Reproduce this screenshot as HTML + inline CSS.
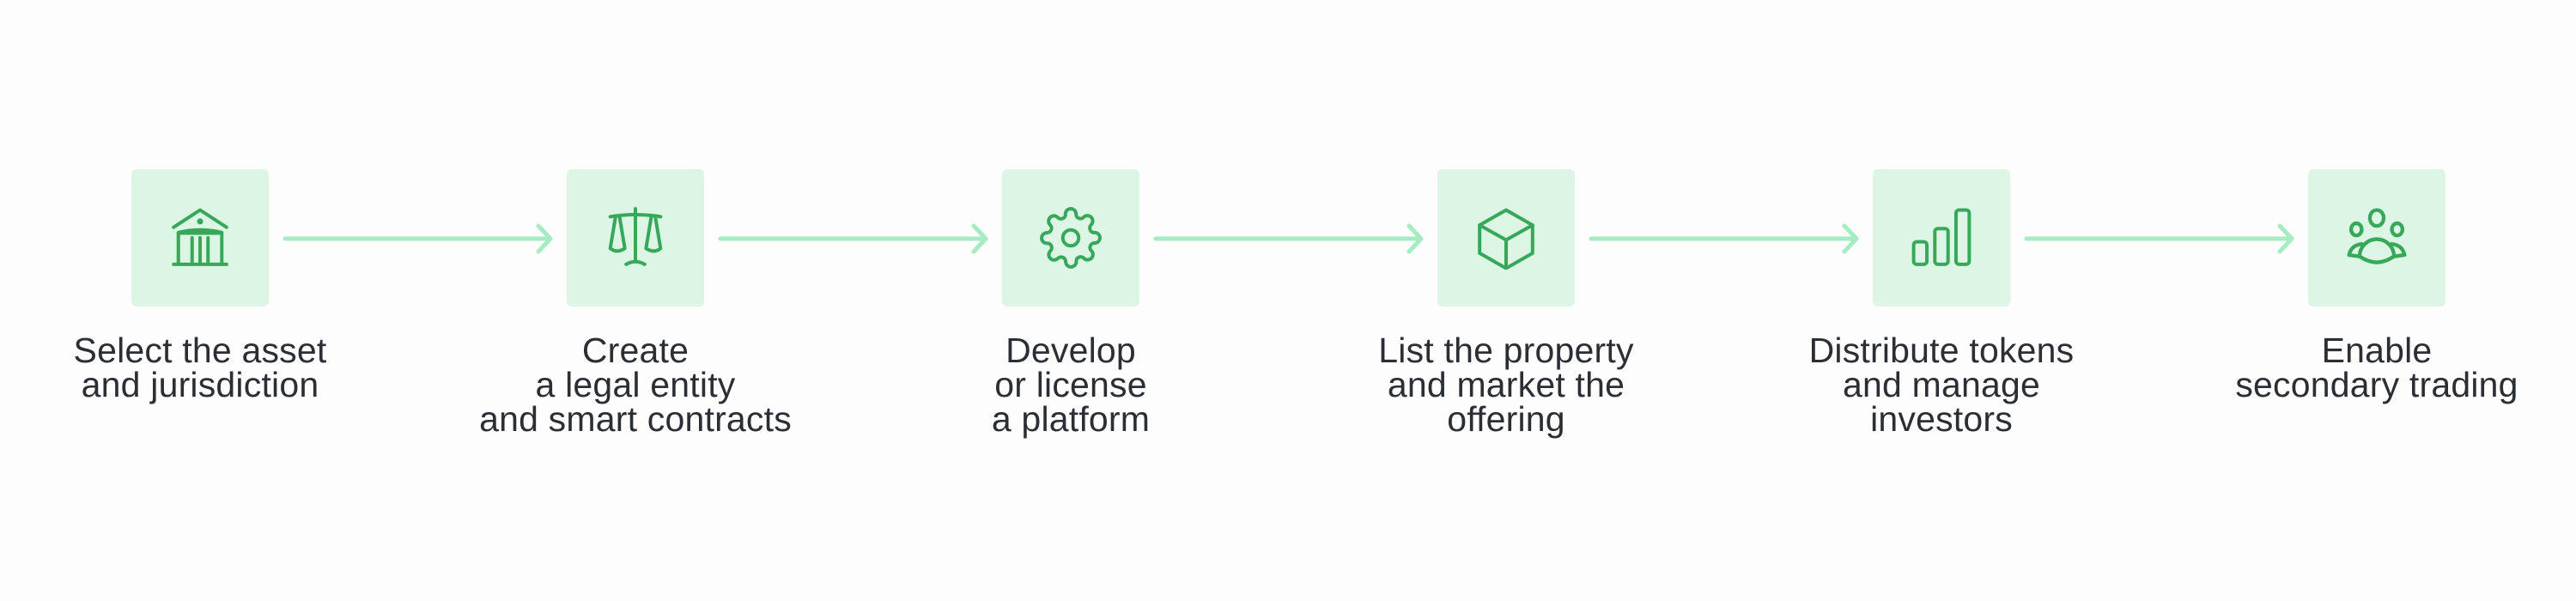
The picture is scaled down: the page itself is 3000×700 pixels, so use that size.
<!DOCTYPE html>
<html><head><meta charset="utf-8"><style>
html,body{margin:0;padding:0;background:#fdfdfd;width:3000px;height:700px;overflow:hidden;position:relative}
.box{position:absolute;top:197px;width:160px;height:160px;background:#dcf5e4;border-radius:6px}
.box svg{position:absolute;left:43px;top:43px;width:74px;height:74px}
.lbl{position:absolute;top:388px;width:500px;text-align:center;font-family:"Liberation Sans",sans-serif;font-size:41px;line-height:40px;color:#2b2e35;letter-spacing:0.2px}
</style></head><body>
<svg width="3000" height="700" style="position:absolute;left:0;top:0">
<g stroke="#a6ecc2" stroke-width="5" fill="none" stroke-linecap="round" stroke-linejoin="round">
<path d="M332 278H641M627 263L641 278L627 293"/>
<path d="M839 278H1148M1134 263L1148 278L1134 293"/>
<path d="M1346 278H1655M1641 263L1655 278L1641 293"/>
<path d="M1853 278H2162M2148 263L2162 278L2148 293"/>
<path d="M2360 278H2669M2655 263L2669 278L2655 293"/>
</g></svg>

<div class="box" style="left:153px"><svg viewBox="0 0 24 24" fill="none" stroke="#37a85a" stroke-width="1.3" stroke-linecap="round" stroke-linejoin="round">
<path d="M2 8L12 1.5L22 8"/><circle cx="12" cy="5.8" r="0.5" fill="#37a85a"/>
<path d="M3.8 21.5V10Q12 8 20.2 10V21.5"/><path d="M3.8 10.2H20.2"/>
<path d="M9 12V21.5M12 12V21.5M15 12V21.5"/><path d="M2 22H22"/></svg></div>

<div class="box" style="left:660px"><svg viewBox="0 0 24 24" fill="none" stroke="#37a85a" stroke-width="1.3" stroke-linecap="round" stroke-linejoin="round">
<path d="M12 1V21"/><path d="M2.5 4Q12 2.5 21.5 4"/>
<path d="M4.5 4L2.5 16Q5 18 8 16L6 4"/><path d="M19.5 4L21.5 16Q19 18 16 16L18 4"/>
<path d="M8.5 22Q12 20 15.5 22"/></svg></div>

<div class="box" style="left:1167px"><svg viewBox="0 0 24 24" fill="none" stroke="#37a85a" stroke-width="1.3" stroke-linecap="round" stroke-linejoin="round">
<circle cx="12" cy="12" r="3"/>
<path d="M19.4 15a1.65 1.65 0 0 0 .33 1.82l.06.06a2 2 0 0 1 0 2.83 2 2 0 0 1-2.83 0l-.06-.06a1.65 1.65 0 0 0-1.820-.33 1.65 1.65 0 0 0-1 1.510V21a2 2 0 0 1-2 2 2 2 0 0 1-2-2v-.09A1.65 1.65 0 0 0 9 19.4a1.65 1.65 0 0 0-1.82.33l-.06.06a2 2 0 0 1-2.830 0 2 2 0 0 1 0-2.83l.06-.06a1.65 1.65 0 0 0 .33-1.82 1.65 1.65 0 0 0-1.51-1H3a2 2 0 0 1-2-2 2 2 0 0 1 2-2h.09A1.65 1.65 0 0 0 4.6 9a1.65 1.65 0 0 0-.33-1.82l-.06-.06a2 2 0 0 1 0-2.83 2 2 0 0 1 2.83 0l.06.06a1.65 1.65 0 0 0 1.82.33H9a1.65 1.65 0 0 0 1-1.51V3a2 2 0 0 1 2-2 2 2 0 0 1 2 2v.09a1.65 1.65 0 0 0 1 1.51 1.65 1.65 0 0 0 1.82-.33l.06-.06a2 2 0 0 1 2.83 0 2 2 0 0 1 0 2.83l-.06.06a1.65 1.65 0 0 0-.33 1.82V9a1.65 1.65 0 0 0 1.51 1H21a2 2 0 0 1 2 2 2 2 0 0 1-2 2h-.09a1.65 1.65 0 0 0-1.51 1z"/></svg></div>

<div class="box" style="left:1674px"><svg viewBox="0 0 24 24" fill="none" stroke="#37a85a" stroke-width="1.3" stroke-linecap="round" stroke-linejoin="round">
<path d="M12 1.5L22 7.2V17.8L12 23.5L2 17.8V7.2Z"/><path d="M2 7.2L12 12.8L22 7.2M12 12.8V23.5"/></svg></div>

<div class="box" style="left:2181px"><svg viewBox="0 0 24 24" fill="none" stroke="#37a85a" stroke-width="1.3" stroke-linecap="round" stroke-linejoin="round">
<rect x="1.5" y="13.5" width="5" height="8.5" rx="1.2"/><rect x="9.5" y="8.5" width="5" height="13.5" rx="1.2"/><rect x="17.5" y="1.5" width="5" height="20.5" rx="1.2"/></svg></div>

<div class="box" style="left:2688px"><svg viewBox="0 0 24 24" fill="none" stroke="#37a85a" stroke-width="1.4" stroke-linecap="round" stroke-linejoin="round">
<ellipse cx="12" cy="4.5" rx="2.6" ry="3"/><ellipse cx="4.3" cy="8.8" rx="2" ry="2.3"/><ellipse cx="19.7" cy="8.8" rx="2" ry="2.3"/>
<path d="M5.5 19A6.5 6.5 0 0 1 18.5 19Q12 23.5 5.5 19Z"/>
<path d="M6.3 14.3Q2.3 14.8 1.5 18.5L5.4 19"/><path d="M17.7 14.3Q21.7 14.8 22.5 18.5L18.6 19"/></svg></div>

<div class="lbl" style="left:-17px">Select the asset<br>and jurisdiction</div>
<div class="lbl" style="left:490px">Create<br>a legal entity<br>and smart contracts</div>
<div class="lbl" style="left:997px">Develop<br>or license<br>a platform</div>
<div class="lbl" style="left:1504px">List the property<br>and market the<br>offering</div>
<div class="lbl" style="left:2011px">Distribute tokens<br>and manage<br>investors</div>
<div class="lbl" style="left:2518px">Enable<br>secondary trading</div>
</body></html>
